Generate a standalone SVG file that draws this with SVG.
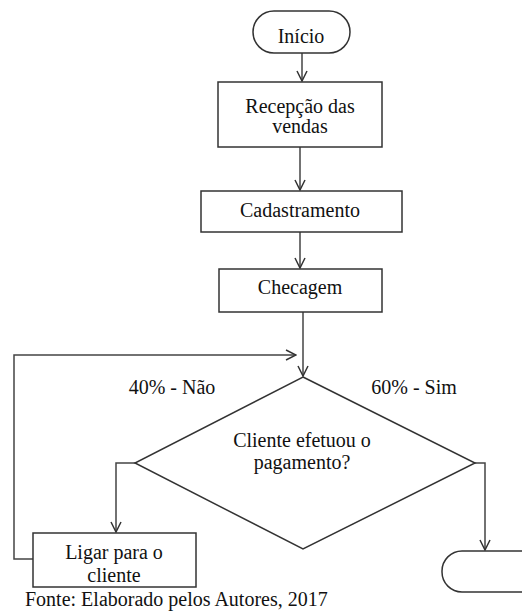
<svg xmlns="http://www.w3.org/2000/svg" width="522" height="612" viewBox="0 0 522 612">
<style>
.box{fill:#fff;stroke:#333;stroke-width:1.5}
.ln{fill:none;stroke:#444;stroke-width:1.5}
.t{font-family:"Liberation Serif","Times New Roman",serif;font-size:20px;fill:#111;text-anchor:middle}
</style>
<defs>
<marker id="ah" viewBox="0 0 12 12" refX="11" refY="6" markerWidth="12" markerHeight="12" markerUnits="userSpaceOnUse" orient="auto">
<path d="M1,1 L11,6 L1,11" fill="none" stroke="#333" stroke-width="1.5"/>
</marker>
</defs>
<rect width="522" height="612" fill="#fff"/>
<g id="connectors">
<line class="ln" x1="302" y1="53" x2="302" y2="81" marker-end="url(#ah)"/>
<line class="ln" x1="300" y1="147" x2="300" y2="190" marker-end="url(#ah)"/>
<line class="ln" x1="300" y1="232" x2="300" y2="268" marker-end="url(#ah)"/>
<line class="ln" x1="303" y1="312" x2="303" y2="376" marker-end="url(#ah)"/>
<polyline class="ln" points="33,559 14,559 14,355 296,355" marker-end="url(#ah)"/>
<polyline class="ln" points="135,463 116,463 116,532" marker-end="url(#ah)"/>
<polyline class="ln" points="475,463 485,463 485,550" marker-end="url(#ah)"/>
</g>
<g id="inicio">
<rect class="box" x="253" y="11" width="97" height="42" rx="21"/>
<text class="t" x="301" y="43">Início</text>
</g>
<g id="recepcao">
<rect class="box" x="218" y="82" width="164" height="65"/>
<text class="t" x="300" y="113">Recepção das</text>
<text class="t" x="300" y="133">vendas</text>
</g>
<g id="cadastramento">
<rect class="box" x="201" y="191" width="201" height="41"/>
<text class="t" x="300" y="217">Cadastramento</text>
</g>
<g id="checagem">
<rect class="box" x="219" y="269" width="163" height="43"/>
<text class="t" x="300" y="294">Checagem</text>
</g>
<g id="decisao">
<polygon class="box" points="303,377 475,463 303,549 135,463"/>
<text class="t" x="302" y="447">Cliente efetuou o</text>
<text class="t" x="302" y="469">pagamento?</text>
</g>
<g id="label-nao">
<text class="t" x="172" y="394">40% - Não</text>
</g>
<g id="label-sim">
<text class="t" x="414" y="394">60% - Sim</text>
</g>
<g id="ligar">
<rect class="box" x="33" y="533" width="163" height="54"/>
<text class="t" x="114" y="559">Ligar para o</text>
<text class="t" x="114" y="582">cliente</text>
</g>
<g id="fim">
<rect class="box" x="442" y="551" width="110" height="41" rx="20"/>
</g>
<g id="fonte">
<text class="t" x="25" y="606" style="text-anchor:start">Fonte: Elaborado pelos Autores, 2017</text>
</g>
</svg>
